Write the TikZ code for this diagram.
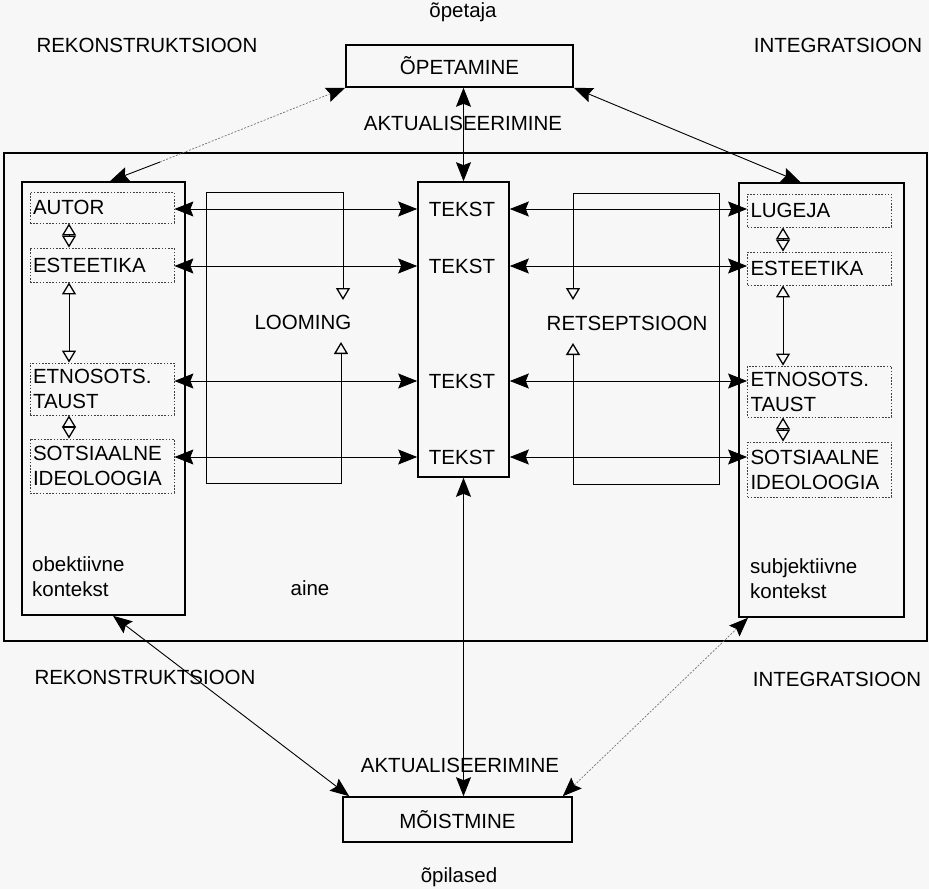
\documentclass[tikz,border=0pt]{standalone}
\usepackage{fontspec}
\setmainfont{Liberation Sans}
\usetikzlibrary{arrows.meta}
\begin{document}
\begin{tikzpicture}[x=1pt,y=-1pt,
  every node/.style={font=\fontsize{20.5}{25}\selectfont, inner sep=0pt},
  thickbox/.style={draw, line width=1.6pt, inner sep=0pt},
  dotbox/.style={draw=black!75, dash pattern=on 1.6pt off 1.6pt, line width=0.8pt,
    text width=138pt, align=left, inner sep=3pt, minimum width=144pt},
  dbl/.style={line width=0.9pt, {Stealth[length=19pt,width=15pt,inset=3pt]}-{Stealth[length=19pt,width=15pt,inset=3pt]}},
  oarr/.style={line width=0.9pt, {Triangle[open,length=12pt,width=14pt,line width=1.3pt]}-{Triangle[open,length=12pt,width=14pt,line width=1.3pt]}},
  toarr/.style={line width=0.9pt, -{Triangle[open,length=12pt,width=14pt,line width=1.3pt]}},
  thin/.style={line width=0.9pt},
  faint/.style={draw=black!55, line width=0.7pt, dash pattern=on 2pt off 1.5pt}
]
\useasboundingbox[fill=black!3] (0,0) rectangle (929,889);

% main boxes
\node[thickbox, minimum width=923pt, minimum height=488pt] (aine) at (465.5,397) {};
\node[thickbox, minimum width=163pt, minimum height=433pt] (leftcol) at (103.5,398.5) {};
\node[thickbox, minimum width=165pt, minimum height=434pt] (rightcol) at (821.5,400) {};
\node[thickbox, minimum width=91pt, minimum height=295pt] (tekst) at (463.5,329.5) {};
\node[thickbox, minimum width=227pt, minimum height=42pt] (opetamine) at (459.5,66) {ÕPETAMINE};
\node[thickbox, minimum width=229pt, minimum height=45pt] (moistmine) at (457.5,819.5) {MÕISTMINE};

% dotted inner boxes, left
\node[dotbox, minimum height=31pt] (autor) at (102,207.5) {AUTOR};
\node[dotbox, minimum height=34pt] (estL) at (102,265) {ESTEETIKA};
\node[dotbox, minimum height=52pt] (etnoL) at (102,389) {ETNOSOTS.\\TAUST};
\node[dotbox, minimum height=54pt] (sotsL) at (102,466) {SOTSIAALNE\\IDEOLOOGIA};
% dotted inner boxes, right
\node[dotbox, minimum height=33pt] (lugeja) at (819.5,210.5) {LUGEJA};
\node[dotbox, minimum height=33pt] (estR) at (819.5,268.5) {ESTEETIKA};
\node[dotbox, minimum height=51pt] (etnoR) at (819.5,391.5) {ETNOSOTS.\\TAUST};
\node[dotbox, minimum height=55pt] (sotsR) at (819.5,469.5) {SOTSIAALNE\\IDEOLOOGIA};

% TEKST labels
\node (t1) at (462,209) {TEKST};
\node (t2) at (462,266) {TEKST};
\node (t3) at (462,381) {TEKST};
\node (t4) at (462,457) {TEKST};

% other labels
\node (opetaja) at (463,12) {õpetaja};
\node (opilased) at (459,877) {õpilased};
\node (rekTop) at (147,45) {REKONSTRUKTSIOON};
\node (intTop) at (838,45) {INTEGRATSIOON};
\node (rekBot) at (145,677) {REKONSTRUKTSIOON};
\node (intBot) at (837,679) {INTEGRATSIOON};
\node (aktTop) at (463,123) {AKTUALISEERIMINE};
\node (aktBot) at (460,765) {AKTUALISEERIMINE};
\node[anchor=west, align=left] (objk) at (32,577) {obektiivne\\kontekst};
\node[anchor=west, align=left] (subk) at (750,579) {subjektiivne\\kontekst};
\node (ainelbl) at (310,588) {aine};
\node (looming) at (303,322) {LOOMING};
\node (retsept) at (627,323) {RETSEPTSIOON};

% horizontal double arrows, left
\draw[dbl] (autor.east |- t1) -- (t1 -| tekst.west);
\draw[dbl] (estL.east |- t2) -- (t2 -| tekst.west);
\draw[dbl] (etnoL.east |- t3) -- (t3 -| tekst.west);
\draw[dbl] (sotsL.east |- t4) -- (t4 -| tekst.west);
% horizontal double arrows, right
\draw[dbl] (t1 -| tekst.east) -- (t1 -| lugeja.west);
\draw[dbl] (t2 -| tekst.east) -- (t2 -| estR.west);
\draw[dbl] (t3 -| tekst.east) -- (t3 -| etnoR.west);
\draw[dbl] (t4 -| tekst.east) -- (t4 -| sotsR.west);

% vertical open arrows inside columns
\coordinate (lv) at (69,0);
\coordinate (rv) at (783,0);
\draw[oarr] (lv |- autor.south) -- (lv |- estL.north);
\draw[oarr] (lv |- estL.south) -- (lv |- etnoL.north);
\draw[oarr] (lv |- etnoL.south) -- (lv |- sotsL.north);
\draw[oarr] (rv |- lugeja.south) -- (rv |- estR.north);
\draw[oarr] (rv |- estR.south) -- (rv |- etnoR.north);
\draw[oarr] (rv |- etnoR.south) -- (rv |- sotsR.north);

% LOOMING frame
\coordinate (lmA) at (343,300);
\coordinate (lmB) at (341,342);
\draw[toarr] (343,240) -- (lmA);
\draw[thin] (343,240) -- (343,192) -- (206,192) -- (206,483) -- (341,483) -- (341,440);
\draw[toarr] (341,440) -- (lmB);
% RETSEPTSIOON frame
\coordinate (rsA) at (573,300);
\coordinate (rsB) at (573,343);
\draw[toarr] (573,240) -- (rsA);
\draw[thin] (573,240) -- (573,193) -- (719,193) -- (719,484) -- (573,484) -- (573,440);
\draw[toarr] (573,440) -- (rsB);

% vertical main arrows
\draw[dbl] (tekst.north |- opetamine.south) -- (tekst.north);
\draw[dbl] (tekst.south) -- (tekst.south |- moistmine.north);

% diagonal connectors
\coordinate (brk) at (160,162);
\draw[faint, {Stealth[length=19pt,width=15pt,inset=3pt,color=black]}-] (opetamine.south west) -- (brk);
\draw[thin, -{Stealth[length=19pt,width=15pt,inset=3pt]}] (brk) -- ([xshift=6.5pt]leftcol.north);
\draw[dbl] (opetamine.south east) -- ([xshift=-21pt]rightcol.north);
\draw[dbl] ([xshift=7pt]moistmine.north west) -- ([xshift=9.5pt]leftcol.south);
\draw[faint, {Stealth[length=19pt,width=15pt,inset=3pt,color=black]}-{Stealth[length=19pt,width=15pt,inset=3pt,color=black]}] ([xshift=-10pt]moistmine.north east) -- ([xshift=-73.5pt]rightcol.south);
\end{tikzpicture}
\end{document}
